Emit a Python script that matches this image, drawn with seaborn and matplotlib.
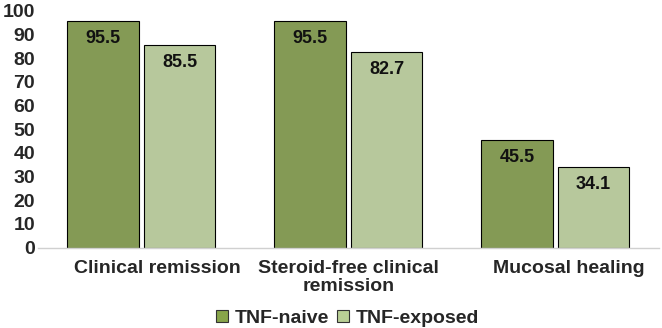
import pandas as pd
import matplotlib.pyplot as plt
import seaborn as sns
from matplotlib.patches import Patch
from matplotlib.transforms import ScaledTranslation

# Data
categories = ['Clinical remission', 'Steroid-free clinical\nremission', 'Mucosal healing']
groups = ['TNF-naive', 'TNF-exposed']
naive_values = [95.5, 95.5, 45.5]
exposed_values = [85.5, 82.7, 34.1]
y_ticks = list(range(0, 101, 10))

colors = ['#88a54a', '#b9cf95']

df = pd.DataFrame({
    'category': categories * 2,
    'group': [groups[0]] * 3 + [groups[1]] * 3,
    'value': naive_values + exposed_values,
})

sns.set_style('white')
plt.rcParams['font.family'] = ['Liberation Sans', 'DejaVu Sans']
plt.rcParams['font.weight'] = 'bold'

fig = plt.figure(figsize=(6.62, 3.28), dpi=100)
ax = fig.add_axes([0.057, 0.245, 0.938, 0.722])

sns.barplot(data=df, x='category', y='value', hue='group', palette=colors,
            order=categories, hue_order=groups, width=0.74, gap=0.07,
            edgecolor='black', linewidth=0.8, ax=ax, legend=False)

# Value labels inside top of bars
for container in ax.containers:
    for bar in container:
        h = bar.get_height()
        ax.annotate(f'{h:.1f}', (bar.get_x() + bar.get_width() / 2, h),
                    xytext=(0, -12.5), textcoords='offset points', ha='center',
                    va='center', fontsize=13, fontweight='bold', color='#111111')

ax.set_xlim(-0.5, 2.5)
ax.set_ylim(0, 100)
ax.set_yticks(y_ticks)
ax.set_yticklabels([str(t) for t in y_ticks], fontsize=14, fontweight='bold')
ax.set_xticks(range(len(categories)))
ax.set_xticklabels(categories, fontsize=14, fontweight='bold', linespacing=1.05)
ax.tick_params(axis='x', length=0, pad=9)
ax.tick_params(axis='y', length=0, pad=2)
ax.set_xlabel('')
ax.set_ylabel('')

# small horizontal nudges of category labels as in the original
for lab, dx in zip(ax.get_xticklabels(), [16, 0, 14]):
    lab.set_transform(lab.get_transform() + ScaledTranslation(dx / 100, 0, fig.dpi_scale_trans))

for side in ['left', 'right', 'top']:
    ax.spines[side].set_visible(False)
ax.spines['bottom'].set_color('#d0d0d0')
ax.spines['bottom'].set_linewidth(1)

handles = [Patch(facecolor=c, edgecolor='#333333', linewidth=0.8, label=g)
           for c, g in zip(colors, groups)]
fig.legend(handles=handles, loc='center', bbox_to_anchor=(0.525, 0.03), ncol=2,
           frameon=False, handlelength=0.6, handleheight=0.6,
           handletextpad=0.35, columnspacing=0.4, prop={'weight': 'bold', 'size': 14})

plt.savefig('out.png', dpi=100)
